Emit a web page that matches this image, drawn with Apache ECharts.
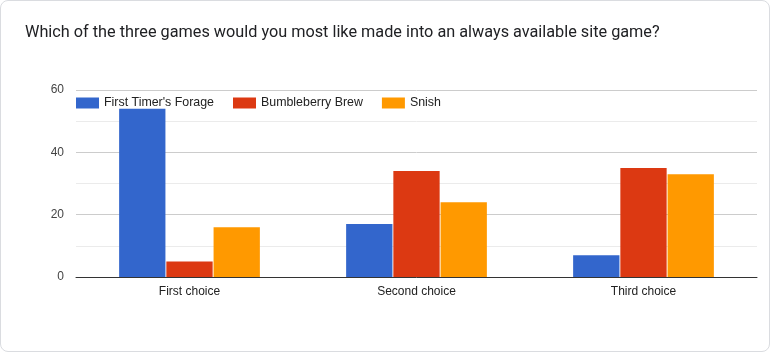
<!DOCTYPE html>
<html><head><meta charset="utf-8">
<script src="https://cdn.jsdelivr.net/npm/echarts@6/dist/echarts.min.js"></script>
<style>
html,body{margin:0;padding:0;background:#fff;}
#card{position:absolute;left:0;top:0;width:768px;height:350px;border:1px solid #dadce0;border-radius:8px;overflow:hidden;}
#chart{position:absolute;left:-1px;top:-1px;width:770px;height:352px;}
</style></head>
<body><div id="card"><div id="chart"></div></div>
<script>
const title = "Which of the three games would you most like made into an always available site game?";
const categories = ["First choice", "Second choice", "Third choice"];
const seriesNames = ["First Timer's Forage", "Bumbleberry Brew", "Snish"];
const forage = [54, 17, 7];
const brew = [5, 34, 35];
const snish = [16, 24, 33];
const colors = ["#3366cc", "#dc3912", "#ff9900"];
const values = [forage, brew, snish];

const chart = echarts.init(document.getElementById('chart'), null, {renderer: 'canvas'});
chart.setOption({
  animation: false,
  title: {text: title, left: 20, top: 20, textStyle: {fontFamily: 'Roboto', fontSize: 16.25, fontWeight: 'normal', color: '#202124'}},
  legend: {
    left: 71, top: 92, itemWidth: 23, itemHeight: 11, itemGap: 19,
    icon: 'rect',
    textStyle: {fontFamily: 'Arial', fontSize: 12.4, color: '#222'},
    data: seriesNames
  },
  grid: {left: 76, right: 13, top: 90, bottom: 75, containLabel: false},
  xAxis: {
    type: 'category', data: categories,
    axisLine: {lineStyle: {color: '#333', width: 1}},
    axisTick: {show: false},
    axisLabel: {fontFamily: 'Arial', fontSize: 12, color: '#222', margin: 9}
  },
  yAxis: {
    type: 'value', min: 0, max: 60, interval: 20,
    axisLine: {show: false}, axisTick: {show: false},
    axisLabel: {fontFamily: 'Arial', fontSize: 12, color: '#444', margin: 12, padding: [3, 0, 0, 0]},
    splitLine: {lineStyle: {color: '#cccccc'}},
    minorTick: {show: false, splitNumber: 2},
    minorSplitLine: {show: true, lineStyle: {color: '#ebebeb'}}
  },
  series: seriesNames.map((n, i) => ({
    name: n, type: 'bar', data: values[i],
    itemStyle: {color: colors[i]},
    barCategoryGap: '38%', barGap: '2%'
  }))
});
</script></body></html>
